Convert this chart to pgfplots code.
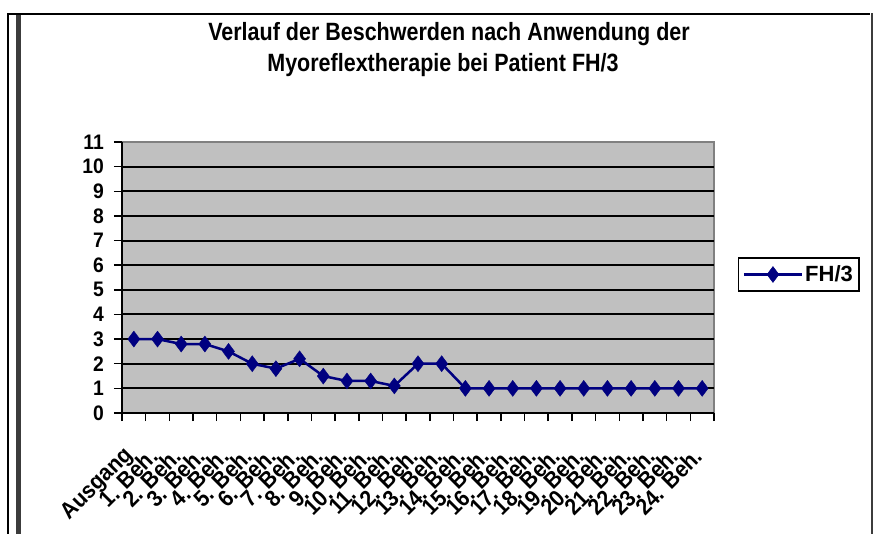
\documentclass[border=0pt]{standalone}
\usepackage{pgfplots}
\pgfplotsset{compat=1.18}
\usepackage{fontspec}
\setmainfont{Liberation Sans}
\newfontfamily\titlefont[FakeStretch=0.86]{Liberation Sans}
\newfontfamily\labfont[FakeStretch=0.92]{Liberation Sans}
\definecolor{navy}{HTML}{000080}
\definecolor{plotgray}{HTML}{C0C0C0}
\definecolor{bordergray}{HTML}{808080}
\definecolor{framegray}{HTML}{3C3C3C}
\begin{document}
\begin{tikzpicture}
\useasboundingbox (0,0) rectangle (874bp,-534bp);
\fill[white] (0,0) rectangle (874bp,-534bp);
\begin{scope}[x=1bp,y=-1bp]
  \draw[black, line width=2bp] (7.7,535) -- (7.7,13.8) -- (870,13.8);
  \draw[framegray, line width=4.5bp] (18.7,15) -- (18.7,535);
  \draw[framegray, line width=2.5bp] (872,13) -- (872,535);
  \node[anchor=base, font=\titlefont\bfseries\fontsize{25bp}{29bp}\selectfont, inner sep=0pt] at (449,40.7) {Verlauf der Beschwerden nach Anwendung der};
  \node[anchor=base, font=\titlefont\bfseries\fontsize{25bp}{29bp}\selectfont, inner sep=0pt] at (443,71.7) {Myoreflextherapie bei Patient FH/3};
\end{scope}
\begin{axis}[
  at={(122bp,-413bp)}, anchor=south west,
  scale only axis, width=592bp, height=271bp,
  xmin=-0.5, xmax=24.5, ymin=0, ymax=11,
  axis background/.style={fill=plotgray, draw=bordergray, line width=2bp},
  axis x line=bottom, axis y line=left,
  axis line style={-, black, line width=2bp},
  xtick={0,...,24},
  xticklabels={Ausgang,1. Beh.,2. Beh.,3. Beh.,4. Beh.,5. Beh.,6. Beh.,7. Beh.,8. Beh.,9. Beh.,10. Beh.,11. Beh.,12. Beh.,13. Beh.,14. Beh.,15. Beh.,16. Beh.,17. Beh.,18. Beh.,19. Beh.,20. Beh.,21. Beh.,22. Beh.,23. Beh.,24. Beh.},
  minor xtick={-0.5,0.5,...,24.5},
  major x tick style={draw=none},
  minor x tick style={black, line width=1.5bp},
  ytick={0,...,11},
  y tick style={black, line width=1.5bp},
  tick align=outside,
  major tick length=8bp, minor tick length=8bp,
  extra y ticks={1,...,10},
  extra y tick labels={},
  extra y tick style={grid=major, major tick length=0pt},
  major grid style={black, line width=2bp},
  /pgf/number format/assume math mode=true,
  ticklabel style={font=\labfont\bfseries\fontsize{21bp}{25bp}\selectfont, inner sep=0pt},
  yticklabel style={xshift=-10bp},
  xticklabel style={xshift=-4bp, yshift=-31bp, rotate=45, anchor=east, font=\labfont\bfseries\fontsize{23bp}{27bp}\selectfont},
  legend style={at={(1.0405,0.5756)}, anchor=north west, draw=black, line width=1.5bp,
    font=\bfseries\fontsize{22bp}{26bp}\selectfont, inner xsep=4bp, inner ysep=6bp},
  legend cell align=left,
  legend image code/.code={\draw[mark repeat=2, mark phase=2, #1] plot coordinates {(0bp,0bp) (29bp,0bp) (58bp,0bp)};},
  clip=false,
]
\addplot[navy, line width=2.5bp, mark=diamond*, mark size=8bp, mark options={line width=0.4bp, fill=navy}]
  coordinates {
  (0,3) (1,3) (2,2.8) (3,2.8) (4,2.5) (5,2) (6,1.8) (7,2.2) (8,1.5) (9,1.3)
  (10,1.3) (11,1.1) (12,2) (13,2) (14,1) (15,1) (16,1) (17,1) (18,1) (19,1)
  (20,1) (21,1) (22,1) (23,1) (24,1)};
\addlegendentry{FH/3}
\end{axis}
\end{tikzpicture}
\end{document}
